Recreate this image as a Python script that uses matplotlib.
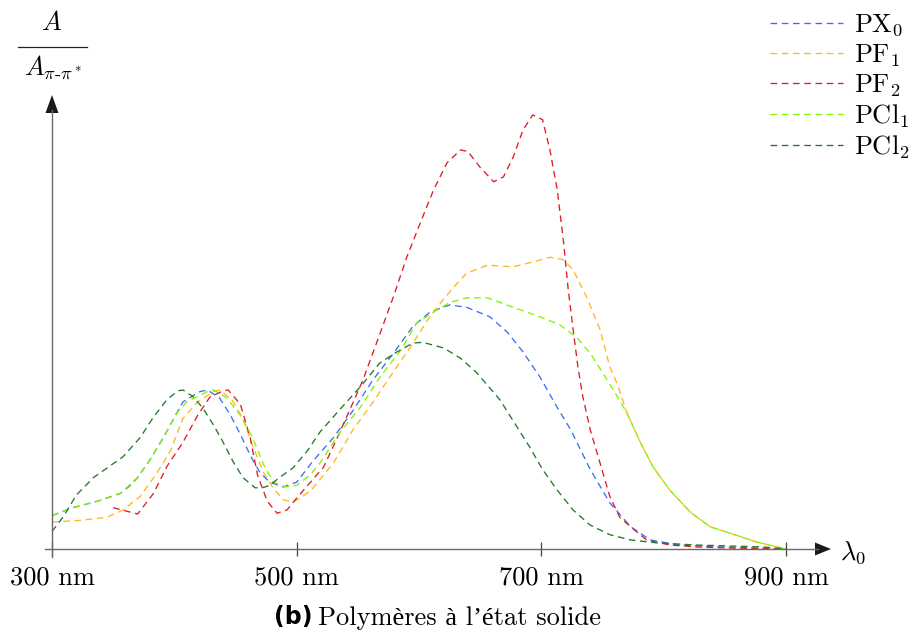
import matplotlib
matplotlib.use('Agg')
import matplotlib.pyplot as plt
from matplotlib.lines import Line2D
from matplotlib.patches import Polygon
from matplotlib.mathtext import MathTextParser

W, H = 913, 631
plt.rcParams['mathtext.fontset'] = 'cm'
plt.rcParams['lines.scale_dashes'] = False
plt.rcParams['axes.unicode_minus'] = False
SERIF = ['cmr10', 'Liberation Serif', 'DejaVu Serif']

# ---------------- data (wavelength in nm, A / A_pi-pi*) ----------------
px0_nm = [300, 317, 337, 356, 364, 370, 380, 391, 402, 407, 421, 427, 437, 446, 454, 462, 470, 478, 489, 500,
          513, 530, 546, 562, 579, 595, 609, 625, 639, 658, 672, 685, 699, 713, 724, 740, 756, 773, 789, 813,
          846, 900]
px0_val = [0.21, 0.26, 0.30, 0.35, 0.40, 0.45, 0.56, 0.70, 0.855, 0.925, 0.99, 1.0, 0.95, 0.84, 0.72, 0.59, 0.48, 0.42, 0.39, 0.42,
           0.55, 0.70, 0.87, 1.06, 1.23, 1.40, 1.49, 1.535, 1.52, 1.46, 1.365, 1.24, 1.08, 0.89, 0.75, 0.50, 0.29, 0.14, 0.057, 0.025,
           0.013, 0.0]

pf1_nm = [300, 323, 345, 358, 372, 386, 397, 407, 419, 432, 437, 447, 456, 464, 473, 481, 489, 497, 505, 513,
          530, 546, 562, 576, 593, 607, 620, 631, 639, 656, 677, 693, 707, 718, 726, 737, 748, 756, 762, 770,
          781, 791, 805, 822, 838, 854, 876, 900]
pf1_val = [0.17, 0.18, 0.20, 0.245, 0.33, 0.48, 0.62, 0.82, 0.925, 0.99, 1.0, 0.94, 0.82, 0.65, 0.48, 0.38, 0.31, 0.295, 0.33, 0.38,
           0.54, 0.75, 0.92, 1.08, 1.27, 1.44, 1.57, 1.67, 1.735, 1.785, 1.775, 1.805, 1.835, 1.82, 1.755, 1.585, 1.38, 1.145, 1.04, 0.855,
           0.67, 0.52, 0.37, 0.23, 0.14, 0.10, 0.044, 0.0]

pf2_nm = [350, 360, 370, 383, 394, 407, 419, 429, 440, 444, 454, 462, 468, 476, 484, 492, 500, 509, 522, 535,
          546, 554, 566, 579, 590, 601, 612, 623, 634, 640, 650, 661, 669, 677, 685, 693, 701, 707, 713, 718,
          722, 726, 730, 734, 740, 748, 756, 764, 773, 786, 805, 827, 854, 900]
pf2_val = [0.26, 0.24, 0.22, 0.35, 0.52, 0.67, 0.84, 0.955, 0.995, 1.0, 0.91, 0.70, 0.465, 0.30, 0.225, 0.245, 0.32, 0.40, 0.515, 0.73,
           0.92, 1.06, 1.31, 1.585, 1.835, 2.05, 2.26, 2.43, 2.51, 2.50, 2.40, 2.31, 2.34, 2.465, 2.635, 2.73, 2.70, 2.51, 2.26, 1.94,
           1.63, 1.38, 1.14, 0.955, 0.75, 0.54, 0.33, 0.20, 0.14, 0.057, 0.025, 0.013, 0.006, 0.0]

pcl1_nm = [300, 317, 337, 356, 370, 380, 391, 402, 410, 427, 432, 443, 454, 464, 473, 481, 491, 500, 511, 519,
           535, 552, 568, 585, 598, 612, 625, 639, 656, 677, 699, 715, 729, 740, 750, 762, 770, 781, 791, 805,
           822, 838, 854, 876, 900]
pcl1_val = [0.21, 0.26, 0.30, 0.35, 0.45, 0.56, 0.70, 0.855, 0.925, 0.99, 1.0, 0.95, 0.84, 0.70, 0.53, 0.42, 0.39, 0.40, 0.465, 0.54,
            0.73, 0.89, 1.08, 1.25, 1.42, 1.49, 1.55, 1.58, 1.58, 1.52, 1.46, 1.41, 1.33, 1.23, 1.11, 0.96, 0.855, 0.67, 0.52, 0.37,
            0.23, 0.14, 0.10, 0.044, 0.0]

pcl2_nm = [300, 309, 320, 334, 347, 358, 372, 383, 394, 403, 407, 415, 423, 432, 440, 448, 456, 466, 472, 478,
           486, 497, 509, 519, 535, 552, 568, 582, 595, 603, 620, 634, 647, 652, 666, 691, 701, 713, 726, 740,
           756, 773, 795, 827, 881, 900]
pcl2_val = [0.11, 0.20, 0.34, 0.45, 0.52, 0.58, 0.70, 0.83, 0.94, 0.995, 1.0, 0.96, 0.89, 0.78, 0.67, 0.55, 0.45, 0.385, 0.385, 0.40,
            0.45, 0.51, 0.62, 0.735, 0.875, 1.02, 1.17, 1.24, 1.295, 1.30, 1.265, 1.20, 1.11, 1.065, 0.94, 0.635, 0.50, 0.37, 0.245, 0.15,
            0.09, 0.057, 0.038, 0.025, 0.013, 0.0]

series_labels = [r'$\mathrm{PX}_0$', r'$\mathrm{PF}_1$', r'$\mathrm{PF}_2$', r'$\mathrm{PCl}_1$', r'$\mathrm{PCl}_2$']
x_ticks = [300, 500, 700, 900]
x_tick_labels = ['300 nm', '500 nm', '700 nm', '900 nm']
caption_label = '(b)'
caption_text = 'Polymères à l’état solide'

colors = ['#3b6ef2', '#ffb71c', '#e01b24', '#82f500', '#1f7a24']

# ---------------- layout helpers (pixel -> figure fraction) ----------------
def fx(x):
    return x / W

def fy(y):
    return 1 - y / H

X0, X1 = 52, 786          # pixel positions of 300 nm and 900 nm
Y0, YTOP = 549, 95        # pixel of value 0 and top of y axis
PX_PER_UNIT = 159.0

fig = plt.figure(figsize=(W / 100, H / 100), dpi=100)
ax = fig.add_axes([fx(X0), fy(Y0), (X1 - X0) / W, (Y0 - YTOP) / H])
ax.set_xlim(300, 900)
ax.set_ylim(0, (Y0 - YTOP) / PX_PER_UNIT)
ax.patch.set_alpha(0)
for s in ax.spines.values():
    s.set_visible(False)

data = [(px0_nm, px0_val), (pf1_nm, pf1_val), (pf2_nm, pf2_val), (pcl1_nm, pcl1_val), (pcl2_nm, pcl2_val)]
handles = []
for (xs, ys), c, lab in zip(data, colors, series_labels):
    ln, = ax.plot(xs, ys, color=c, lw=0.95, dashes=(4.8, 3.3), label=lab, clip_on=False,
                  solid_joinstyle='round', dash_joinstyle='round')
    handles.append(ln)

ax.set_xticks(x_ticks)
ax.set_xticklabels(x_tick_labels, fontsize=19, family=SERIF)
ax.tick_params(axis='x', direction='inout', length=10, width=0.9, color='#444444', pad=7)
ax.set_yticks([])

# axes with arrows
axis_col = '#6a6a6a'
fig.add_artist(Line2D([fx(45), fx(818)], [fy(Y0), fy(Y0)], color=axis_col, lw=1.0))
fig.add_artist(Polygon([[fx(831), fy(Y0)], [fx(815), fy(Y0 - 6.5)], [fx(815), fy(Y0 + 6.5)]],
                       closed=True, color='#1a1a1a', lw=0))
fig.add_artist(Line2D([fx(X0), fx(X0)], [fy(557), fy(110)], color=axis_col, lw=1.0))
fig.add_artist(Polygon([[fx(X0), fy(95)], [fx(X0 - 6.5), fy(113)], [fx(X0 + 6.5), fy(113)]],
                       closed=True, color='#1a1a1a', lw=0))

# axis labels
fig.text(fx(853), fy(553), r'$\lambda_0$', fontsize=19, ha='center', va='center')
den = r'$A_{\pi\text{-}\pi^*}$'
try:
    MathTextParser('agg').parse(den, 100)
except Exception:
    den = r'$A_{\pi-\pi^*}$'
fig.text(fx(52), fy(23), r'$A$', fontsize=19, ha='center', va='center')
fig.add_artist(Line2D([fx(18), fx(87)], [fy(47), fy(47)], color='#222222', lw=0.9))
fig.text(fx(53), fy(68), den, fontsize=19, ha='center', va='center')

# legend
leg = ax.legend(handles=handles, loc='upper left', bbox_to_anchor=(fx(770), fy(12)),
                bbox_transform=fig.transFigure, frameon=False, fontsize=19,
                handlelength=2.75, handletextpad=0.45, labelspacing=0.14,
                borderpad=0, borderaxespad=0)

# caption
fig.text(fx(312), fy(617), caption_label, fontsize=17, fontweight='bold',
         family='DejaVu Sans', ha='right', va='center')
fig.text(fx(318), fy(618), caption_text, fontsize=19, family=SERIF, ha='left', va='center')

fig.savefig('out.png', dpi=100)
